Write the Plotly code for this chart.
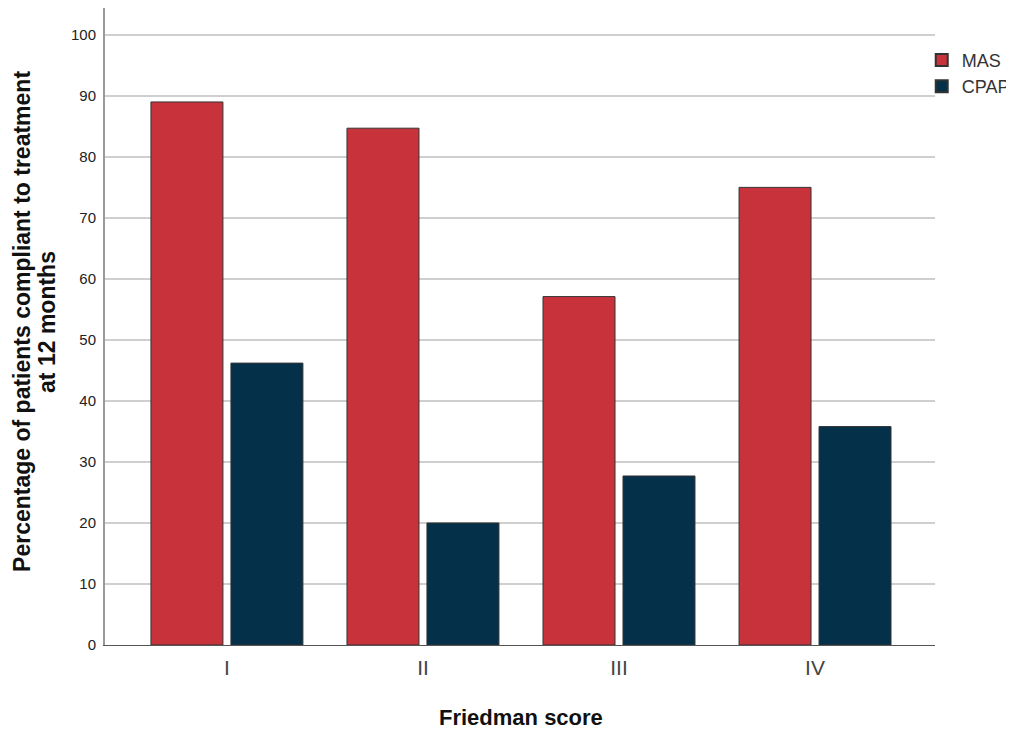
import plotly.graph_objects as go

categories = ["I", "II", "III", "IV"]
mas = [89.0, 84.7, 57.1, 75.0]
cpap = [46.2, 20.0, 27.7, 35.8]
y_ticks = [0, 10, 20, 30, 40, 50, 60, 70, 80, 90, 100]

# page body has an 8px default margin, so the figure is sized to fit the window
W, H = 1006, 722
L, R, T, B = 97, 79, 0, 85
plot_w = W - L - R
plot_h = H - T - B
title_y = (645 - 322) / 610 * (100 / 104.4)

fig = go.Figure()
fig.add_trace(go.Bar(name="MAS", x=categories, y=mas,
                     marker=dict(color="#C8333B", line=dict(color="#333333", width=1))))
fig.add_trace(go.Bar(name="CPAP", x=categories, y=cpap,
                     marker=dict(color="#04304A", line=dict(color="#333333", width=1))))

fig.update_layout(
    width=W, height=H,
    margin=dict(l=L, r=R, t=T, b=B, autoexpand=False),
    plot_bgcolor="white", paper_bgcolor="white",
    barmode="group", bargap=0.184, bargroupgap=0.1,
    font=dict(family="Liberation Sans, Arial, sans-serif", color="#222222"),
    legend=dict(x=0.984, xanchor="left", y=0.947, yanchor="top",
                font=dict(size=18, color="#333333"),
                itemsizing="constant", tracegroupgap=0,
                bgcolor="rgba(0,0,0,0)"),
    xaxis=dict(
        range=[-0.622, 3.612],
        showline=True, linecolor="#555555", linewidth=1,
        ticks="", tickfont=dict(size=21, color="#444444"),
        ticklabelstandoff=4,
        automargin=False,
    ),
    yaxis=dict(
        range=[0, 104.4],
        tickvals=y_ticks,
        showline=True, linecolor="#9a9a9a", linewidth=2,
        showgrid=True, gridcolor="#cfcfcf", gridwidth=1.5,
        ticks="", tickfont=dict(size=15, color="#222222"),
        ticklabelstandoff=4,
        zeroline=False, automargin=False,
    ),
    annotations=[
        dict(text="<b>Friedman score</b>", xref="paper", yref="paper",
             x=(521 - 105) / plot_w, y=-72 / plot_h, showarrow=False,
             font=dict(size=22, color="#111111"), xanchor="center", yanchor="middle"),
        dict(text="<b>Percentage of patients compliant to treatment</b>", xref="paper", yref="paper",
             x=-83 / plot_w, y=title_y, showarrow=False, textangle=-90,
             font=dict(size=23, color="#111111"), xanchor="center", yanchor="middle"),
        dict(text="<b>at 12 months</b>", xref="paper", yref="paper",
             x=-58 / plot_w, y=title_y, showarrow=False, textangle=-90,
             font=dict(size=23, color="#111111"), xanchor="center", yanchor="middle"),
    ],
)

fig.write_html("out.html")
